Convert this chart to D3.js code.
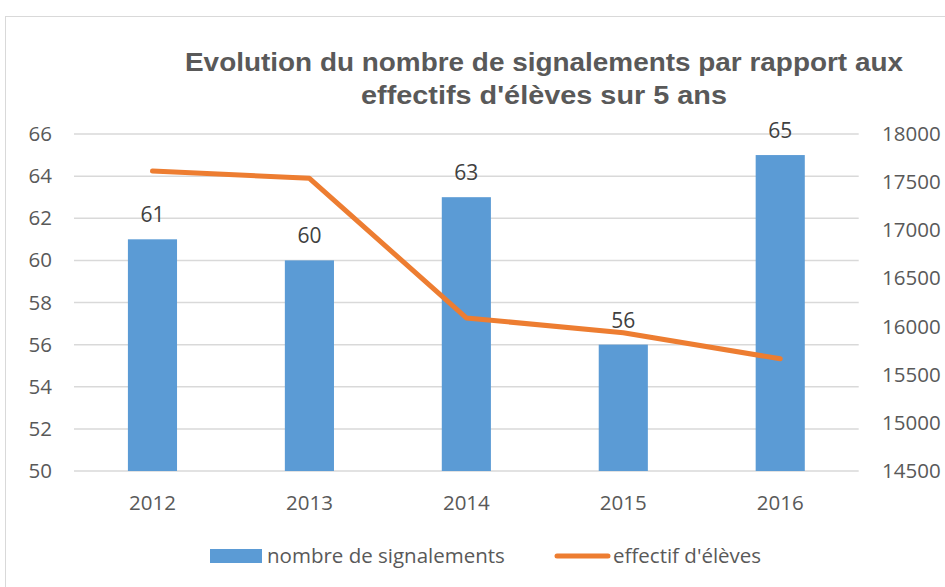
<!DOCTYPE html>
<html>
  <head>
    <meta charset="utf-8" />
    <title>Signalements</title>
    <script src="https://cdn.jsdelivr.net/npm/d3@7/dist/d3.min.js"></script>
    <style>
      body { margin: 0; background: #fff; }
      text { font-family: "Open Sans", sans-serif; }
    </style>
  </head>
  <body>
    <div id="canvas"></div>
  <script>
    // data
    const years = ["2012", "2013", "2014", "2015", "2016"];
    const signalements = [61, 60, 63, 56, 65];
    const effectifs = [17615, 17540, 16090, 15935, 15665];
    const leftTicks = [50, 52, 54, 56, 58, 60, 62, 64, 66];
    const rightTicks = [14500, 15000, 15500, 16000, 16500, 17000, 17500, 18000];

    const width = 945;
    const height = 587;
    const margin = { top: 134, right: 87, bottom: 116, left: 74 };
    const fs = "20.5px";

    const svg = d3
      .select("#canvas")
      .append("svg")
      .attr("width", width)
      .attr("height", height);

    // chart frame
    svg.append("rect")
      .attr("x", 5.5).attr("y", 16.5)
      .attr("width", 1100).attr("height", 700)
      .attr("fill", "#fff")
      .attr("stroke", "#d9d9d9");

    const x = d3.scaleBand()
      .domain(years)
      .range([margin.left, width - margin.right + 0.7])
      .paddingInner(0.687)
      .paddingOuter(0.3435);

    const y = d3.scaleLinear()
      .domain([50, 66])
      .range([height - margin.bottom, margin.top]);

    const y2 = d3.scaleLinear()
      .domain([14500, 18000])
      .range([height - margin.bottom, margin.top]);

    // gridlines
    svg.append("g")
      .selectAll("line")
      .data(leftTicks)
      .join("line")
      .attr("x1", margin.left)
      .attr("x2", width - margin.right + 0.7)
      .attr("y1", d => y(d))
      .attr("y2", d => y(d))
      .attr("stroke", "#d9d9d9")
      .attr("stroke-width", 1.5);

    // left axis
    const yAxis = svg.append("g")
      .attr("transform", `translate(${margin.left - 22},0)`)
      .call(d3.axisLeft(y).tickValues(leftTicks).tickSize(0).tickPadding(0));
    yAxis.select(".domain").remove();
    yAxis.selectAll("text")
      .attr("fill", "#595959")
      .style("font-size", fs);

    // right axis
    const y2Axis = svg.append("g")
      .attr("transform", `translate(${width - margin.right + 24},0)`)
      .call(d3.axisRight(y2).tickValues(rightTicks).tickFormat(d3.format("d")).tickSize(0).tickPadding(0));
    y2Axis.select(".domain").remove();
    y2Axis.selectAll("text")
      .attr("fill", "#595959")
      .style("font-size", fs);

    // bottom axis
    const xAxis = svg.append("g")
      .attr("transform", `translate(0,${height - margin.bottom})`)
      .call(d3.axisBottom(x).tickSize(0).tickPadding(24));
    xAxis.select(".domain").remove();
    xAxis.selectAll("text")
      .attr("fill", "#595959")
      .style("font-size", fs);

    // bars
    svg.append("g")
      .selectAll("rect")
      .data(years)
      .join("rect")
      .attr("x", d => x(d))
      .attr("width", x.bandwidth())
      .attr("y", (d, i) => y(signalements[i]))
      .attr("height", (d, i) => y(50) - y(signalements[i]))
      .attr("fill", "#5b9bd5");

    // bar labels
    svg.append("g")
      .selectAll("text")
      .data(years)
      .join("text")
      .attr("x", d => x(d) + x.bandwidth() / 2)
      .attr("y", (d, i) => y(signalements[i]) - 17)
      .attr("text-anchor", "middle")
      .attr("fill", "#404040")
      .style("font-size", "21px")
      .text((d, i) => signalements[i]);

    // line
    const line = d3.line()
      .x((d, i) => x(years[i]) + x.bandwidth() / 2)
      .y(d => y2(d));

    svg.append("path")
      .datum(effectifs)
      .attr("d", line)
      .attr("fill", "none")
      .attr("stroke", "#ed7d31")
      .attr("stroke-width", 5)
      .attr("stroke-linecap", "round")
      .attr("stroke-linejoin", "round");

    // title
    const title = svg.append("text")
      .attr("text-anchor", "middle")
      .attr("fill", "#595959")
      .style("font-family", "'Liberation Sans', Arial, sans-serif")
      .style("font-weight", "bold")
      .style("font-size", "26px");
    title.append("tspan").attr("x", 544).attr("y", 71)
      .attr("textLength", 718).attr("lengthAdjust", "spacingAndGlyphs")
      .text("Evolution du nombre de signalements par rapport aux");
    title.append("tspan").attr("x", 544).attr("y", 104)
      .attr("textLength", 366).attr("lengthAdjust", "spacingAndGlyphs")
      .text("effectifs d'élèves sur 5 ans");

    // legend
    const legend = svg.append("g");
    legend.append("rect")
      .attr("x", 210).attr("y", 549)
      .attr("width", 52).attr("height", 14)
      .attr("fill", "#5b9bd5");
    legend.append("text")
      .attr("x", 267).attr("y", 563)
      .attr("fill", "#595959")
      .style("font-size", fs)
      .text("nombre de signalements");
    legend.append("line")
      .attr("x1", 557).attr("x2", 608)
      .attr("y1", 556).attr("y2", 556)
      .attr("stroke", "#ed7d31")
      .attr("stroke-width", 5)
      .attr("stroke-linecap", "round");
    legend.append("text")
      .attr("x", 613).attr("y", 563)
      .attr("fill", "#595959")
      .style("font-size", fs)
      .text("effectif d'élèves");
  </script>
  </body>
</html>
